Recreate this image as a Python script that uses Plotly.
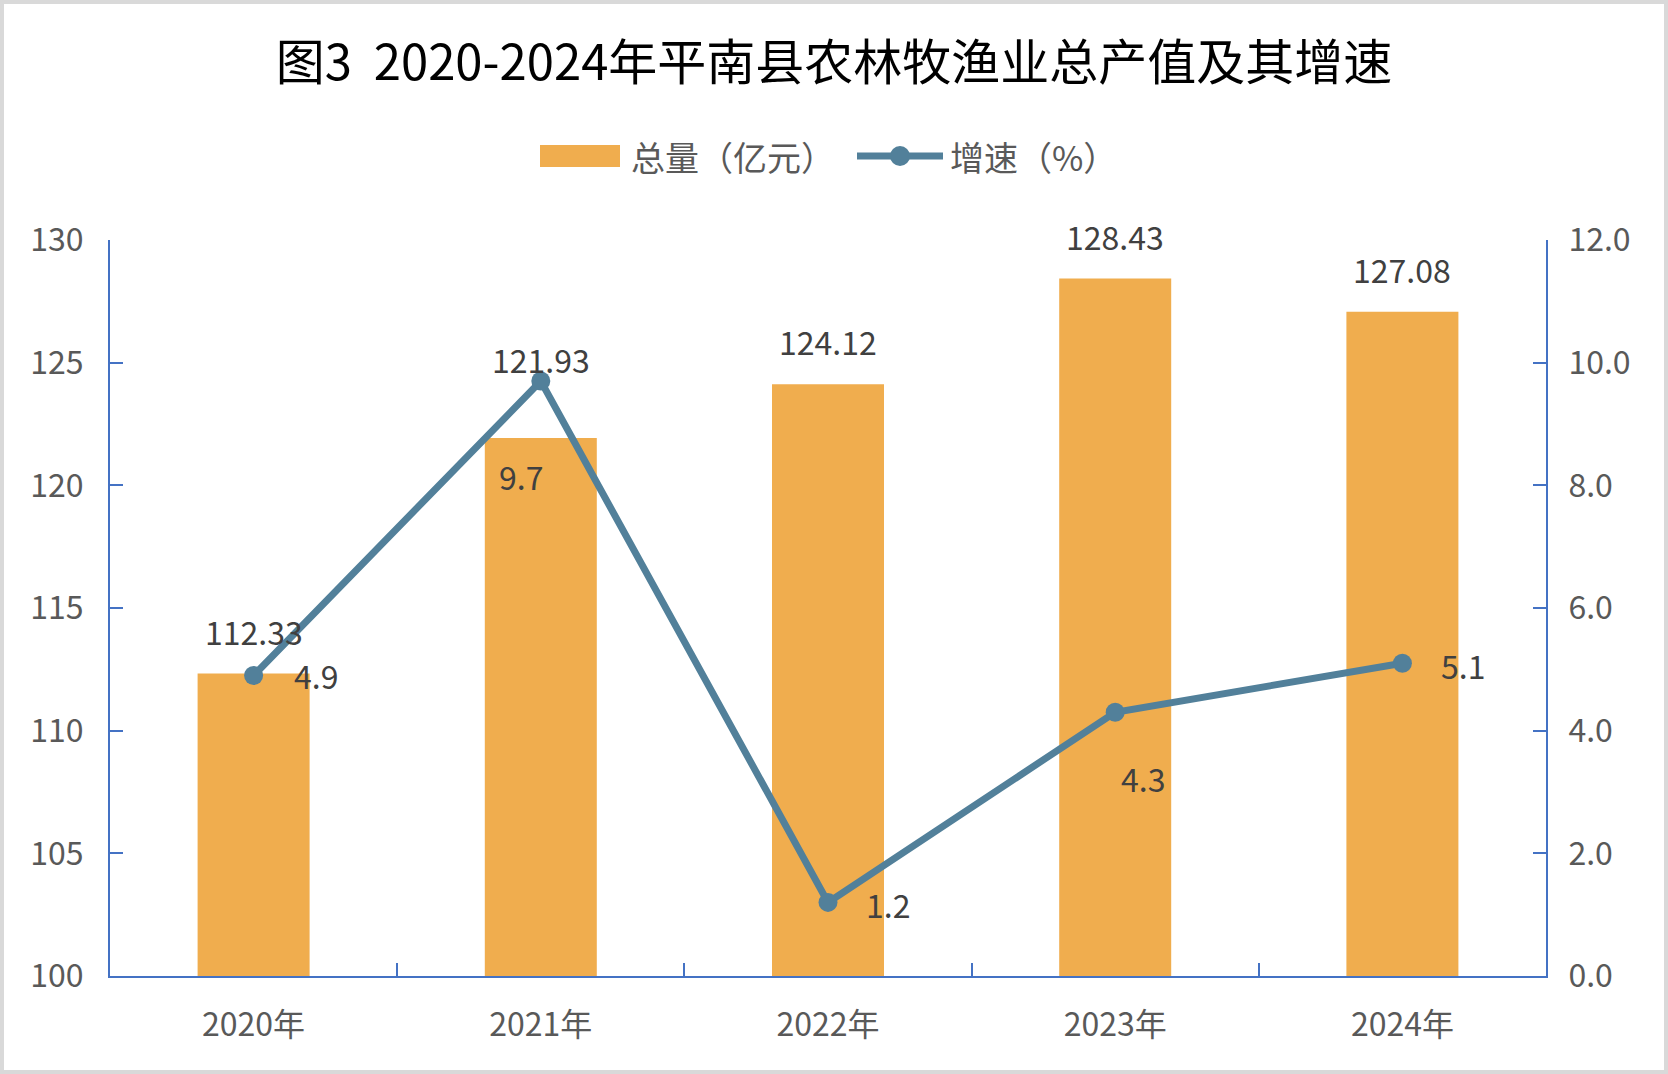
import plotly.graph_objects as go

# 数据
years = ['2020年', '2021年', '2022年', '2023年', '2024年']
output_value = [112.33, 121.93, 124.12, 128.43, 127.08]   # 总量（亿元）
growth_rate = [4.9, 9.7, 1.2, 4.3, 5.1]                   # 增速（%）
legend_names = ['总量（亿元）', '增速（%）']

# 标签偏移（像素），参照原图手动摆放
bar_label_dy = [43, 79, 43, 43, 43]
rate_label_dx = [62, -20, 60, 28, 61]
rate_label_dy = [0, -95, -2, -66, -2]

font_cn = 'Noto Sans CJK SC, Microsoft YaHei, sans-serif'
bar_color = '#F0AD4E'
line_color = '#52809A'
axis_color = '#4472C4'
tick_color = '#595959'
label_color = '#404040'

W, H = 1668, 1074
L, R, T, B = 110, 122, 240, 98
PW, PH = W - L - R, H - T - B


def px(x):  # 像素 -> paper x
    return (x - L) / PW


def py(y):  # 像素 -> paper y
    return (H - B - y) / PH


fig = go.Figure()

fig.add_trace(go.Bar(
    x=years, y=output_value, name=legend_names[0],
    marker=dict(color=bar_color, line=dict(width=0)),
    width=0.39, yaxis='y', showlegend=False
))

fig.add_trace(go.Scatter(
    x=years, y=growth_rate, name=legend_names[1],
    mode='lines+markers',
    line=dict(color=line_color, width=7),
    marker=dict(color=line_color, size=19),
    yaxis='y2', showlegend=False
))

# 数据标签
annotations = []
for yr, v, dy in zip(years, output_value, bar_label_dy):
    annotations.append(dict(
        x=yr, y=v, xref='x', yref='y', text=f'{v:.2f}', showarrow=False,
        yshift=dy, font=dict(size=32, color=label_color, family=font_cn)
    ))
for yr, v, dx, dy in zip(years, growth_rate, rate_label_dx, rate_label_dy):
    annotations.append(dict(
        x=yr, y=v, xref='x', yref='y2', text=f'{v:.1f}', showarrow=False,
        xshift=dx, yshift=dy, font=dict(size=32, color=label_color, family=font_cn)
    ))

# 图例（手工绘制，色块为宽矩形）
leg_y = 156
annotations.append(dict(x=px(629), y=py(leg_y), xref='paper', yref='paper',
                        text=legend_names[0], showarrow=False, xanchor='left', yanchor='middle',
                        font=dict(size=34, color=tick_color, family=font_cn)))
annotations.append(dict(x=px(948), y=py(leg_y), xref='paper', yref='paper',
                        text=legend_names[1], showarrow=False, xanchor='left', yanchor='middle',
                        font=dict(size=34, color=tick_color, family=font_cn)))

shapes = [
    # 外框
    dict(type='rect', xref='paper', yref='paper',
         x0=px(2), x1=px(W - 2), y0=py(H - 2), y1=py(2),
         line=dict(color='#D9D9D9', width=4), layer='below'),
    # 图例色块
    dict(type='rect', xref='paper', yref='paper',
         x0=px(540), x1=px(620), y0=py(leg_y + 11), y1=py(leg_y - 11),
         fillcolor=bar_color, line=dict(width=0)),
    # 图例折线
    dict(type='line', xref='paper', yref='paper',
         x0=px(857), x1=px(943), y0=py(leg_y), y1=py(leg_y),
         line=dict(color=line_color, width=7)),
    dict(type='circle', xref='paper', yref='paper',
         x0=px(900 - 10), x1=px(900 + 10), y0=py(leg_y + 10), y1=py(leg_y - 10),
         fillcolor=line_color, line=dict(width=0)),
]

fig.update_layout(
    width=W, height=H,
    margin=dict(l=L, r=R, t=T, b=B),
    paper_bgcolor='white', plot_bgcolor='white',
    font=dict(family=font_cn, size=32, color=tick_color),
    showlegend=False,
    title=dict(
        text='图3  2020-2024年平南县农林牧渔业总产值及其增速',
        x=0.5, xref='container', xanchor='center',
        y=1 - 63 / H, yref='container', yanchor='middle',
        font=dict(size=49, color='#000000', family=font_cn)
    ),
    bargap=0.61,
    xaxis=dict(
        type='category', showgrid=False, showline=True, linecolor=axis_color, linewidth=2,
        ticks='inside', tickson='boundaries', ticklen=13, tickcolor=axis_color, tickwidth=1.5,
        tickfont=dict(size=32, color=tick_color), ticklabelstandoff=20
    ),
    yaxis=dict(
        range=[100, 130], dtick=5, showgrid=False, showline=True, linecolor=axis_color,
        linewidth=2, ticks='inside', ticklen=13, tickcolor=axis_color, tickwidth=1.5,
        tickfont=dict(size=32, color=tick_color), zeroline=False, ticklabelstandoff=18
    ),
    yaxis2=dict(
        range=[0, 12], dtick=2, tickformat='.1f', overlaying='y', side='right',
        showgrid=False, showline=True, linecolor=axis_color, linewidth=2,
        ticks='inside', ticklen=13, tickcolor=axis_color, tickwidth=1.5,
        tickfont=dict(size=32, color=tick_color), zeroline=False, ticklabelstandoff=14
    ),
    annotations=annotations,
    shapes=shapes
)

fig.write_html('out.html', config={'displayModeBar': False},
               post_script="document.body.style.margin='0';")
